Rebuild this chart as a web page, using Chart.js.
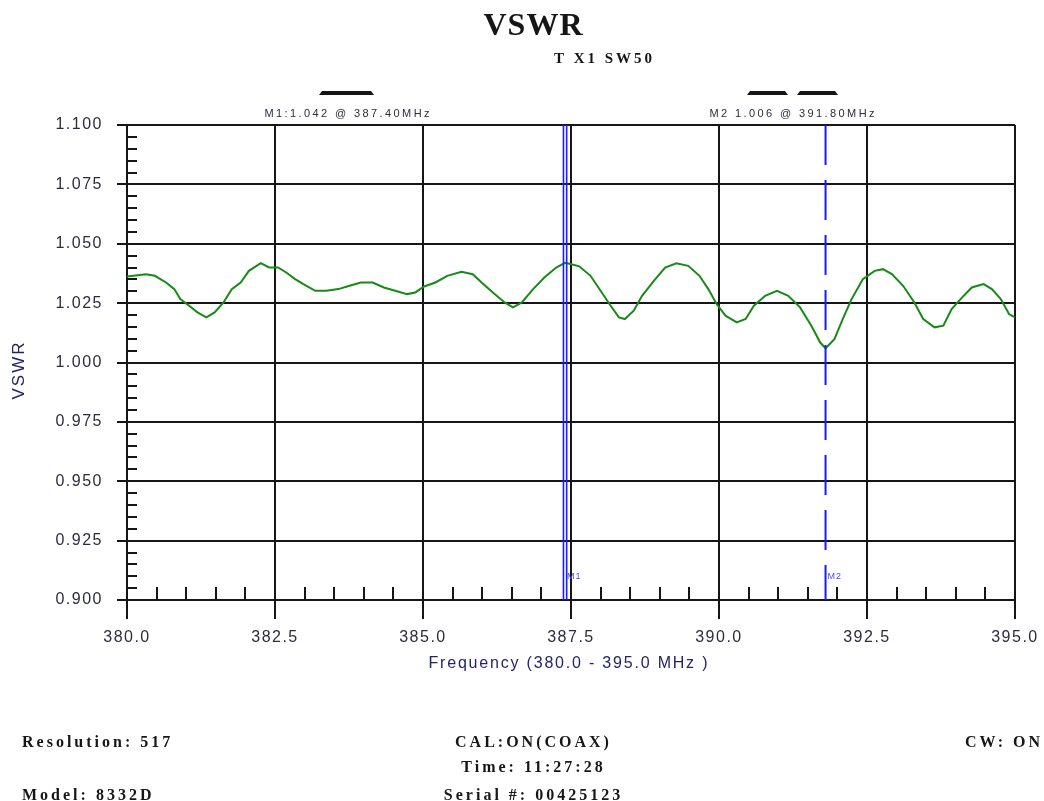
<!DOCTYPE html>
<html>
<head>
<meta charset="utf-8">
<title>VSWR</title>
<script src="https://cdn.jsdelivr.net/npm/chart.js@4.4.1/dist/chart.umd.min.js"></script>
<style>
  html, body { margin: 0; padding: 0; background: #fff; }
  #wrap { width: 1044px; height: 801px; }
</style>
</head>
<body>
<div id="wrap"><canvas id="vswrChart" width="1044" height="801"></canvas></div>
<script>
// ===== Sweep data =====
const freqMHz = [
  380.00, 380.32, 380.47, 380.66, 380.80, 380.90, 381.05, 381.19, 381.34, 381.48,
  381.63, 381.77, 381.92, 382.06, 382.26, 382.40, 382.55, 382.69, 382.84, 382.98,
  383.18, 383.37, 383.57, 383.76, 383.95, 384.15, 384.34, 384.53, 384.73, 384.87,
  385.02, 385.21, 385.41, 385.65, 385.84, 385.99, 386.18, 386.38, 386.52, 386.67,
  386.86, 387.05, 387.25, 387.40, 387.49, 387.64, 387.83, 388.02, 388.17, 388.31,
  388.41, 388.56, 388.70, 388.90, 389.09, 389.28, 389.48, 389.67, 389.82, 389.96,
  390.11, 390.30, 390.45, 390.59, 390.78, 390.98, 391.17, 391.37, 391.56, 391.71,
  391.80, 391.95, 392.09, 392.24, 392.43, 392.63, 392.77, 392.92, 393.11, 393.30,
  393.45, 393.64, 393.79, 393.93, 394.08, 394.27, 394.47, 394.61, 394.76, 394.90,
  395.00
];
const vswr = [
  1.0362, 1.0372, 1.0365, 1.0337, 1.0309, 1.0267, 1.0239, 1.0211, 1.0190, 1.0211,
  1.0253, 1.0309, 1.0337, 1.0386, 1.0418, 1.0400, 1.0400, 1.0379, 1.0351, 1.0330,
  1.0302, 1.0302, 1.0309, 1.0323, 1.0337, 1.0337, 1.0316, 1.0302, 1.0288, 1.0295,
  1.0320, 1.0337, 1.0365, 1.0382, 1.0372, 1.0337, 1.0295, 1.0253, 1.0232, 1.0253,
  1.0309, 1.0358, 1.0400, 1.0420, 1.0415, 1.0405, 1.0365, 1.0295, 1.0239, 1.0190,
  1.0183, 1.0218, 1.0281, 1.0344, 1.0400, 1.0418, 1.0407, 1.0365, 1.0309, 1.0246,
  1.0197, 1.0169, 1.0183, 1.0239, 1.0281, 1.0302, 1.0281, 1.0232, 1.0155, 1.0084,
  1.0060, 1.0098, 1.0183, 1.0267, 1.0351, 1.0386, 1.0393, 1.0372, 1.0323, 1.0253,
  1.0183, 1.0148, 1.0155, 1.0225, 1.0267, 1.0316, 1.0330, 1.0309, 1.0267, 1.0204,
  1.0190
];

const xTicks = [380.0, 382.5, 385.0, 387.5, 390.0, 392.5, 395.0];
const yTicks = [0.900, 0.925, 0.950, 0.975, 1.000, 1.025, 1.050, 1.075, 1.100];
const xMinorStep = 0.5;
const yMinorStep = 0.005;

const markerNames = ['M1', 'M2'];
const markerFreq = [387.40, 391.80];
const markerVswr = [1.042, 1.006];

const footerLeft = ['Resolution: 517', 'Model: 8332D'];
const footerCenter = ['CAL:ON(COAX)', 'Time: 11:27:28', 'Serial #: 00425123'];
const footerRight = ['CW: ON'];

// ===== Colours =====
const INK = '#161616';
const LABEL = '#2c2c40';
const NAVY = '#24246a';
const TRACE = '#178a17';
const MARKER = '#1a1aff';

// text with letter spacing, compensating the trailing gap Chrome adds
function drawText(ctx, str, x, y, font, color, align, spacing) {
  ctx.save();
  ctx.font = font;
  ctx.fillStyle = color;
  ctx.textAlign = align;
  ctx.textBaseline = 'middle';
  ctx.letterSpacing = spacing + 'px';
  let dx = 0;
  if (align === 'center') dx = spacing / 2;
  if (align === 'right') dx = spacing;
  ctx.fillText(str, x + dx, y);
  ctx.restore();
}

function bar(ctx, x1, x2, y) {
  ctx.save();
  ctx.fillStyle = INK;
  ctx.beginPath();
  ctx.moveTo(x1 + 3, y - 2);
  ctx.lineTo(x2 - 3, y - 2);
  ctx.lineTo(x2, y + 2);
  ctx.lineTo(x1, y + 2);
  ctx.closePath();
  ctx.fill();
  ctx.restore();
}

// ===== Extras: titles, minor ticks, markers, footer =====
const decorations = {
  id: 'decorations',
  beforeDraw(chart) {
    chart.ctx.letterSpacing = '1.5px';
  },
  afterDatasetsDraw(chart) {
    const { ctx, chartArea: area, scales: { x } } = chart;
    ctx.save();
    ctx.strokeStyle = MARKER;
    ctx.lineWidth = 1.6;

    // M1: double solid line
    const m1 = x.getPixelForValue(markerFreq[0]);
    [-1.6, 1.6].forEach(off => {
      ctx.beginPath();
      ctx.moveTo(m1 + off, area.top);
      ctx.lineTo(m1 + off, area.bottom);
      ctx.stroke();
    });

    // M2: long dashes
    const m2 = x.getPixelForValue(markerFreq[1]);
    ctx.lineWidth = 2;
    ctx.setLineDash([40, 15]);
    ctx.beginPath();
    ctx.moveTo(m2, area.top);
    ctx.lineTo(m2, area.bottom);
    ctx.stroke();
    ctx.restore();

    drawText(ctx, markerNames[0], m1 + 2, area.bottom - 23, '9px "Liberation Sans"', '#4a4aff', 'left', 1);
    drawText(ctx, markerNames[1], m2 + 2, area.bottom - 23, '9px "Liberation Sans"', '#4a4aff', 'left', 1);
  },
  afterDraw(chart) {
    const { ctx, chartArea: area, scales: { x, y } } = chart;

    // minor ticks
    ctx.save();
    ctx.strokeStyle = INK;
    ctx.lineWidth = 2;
    ctx.beginPath();
    for (let f = x.min + xMinorStep; f < x.max; f += xMinorStep) {
      if (xTicks.some(t => Math.abs(t - f) < 1e-6)) continue;
      const px = Math.round(x.getPixelForValue(f));
      ctx.moveTo(px, area.bottom);
      ctx.lineTo(px, area.bottom - 13);
    }
    for (let v = y.min + yMinorStep; v < y.max - 1e-9; v += yMinorStep) {
      if (yTicks.some(t => Math.abs(t - v) < 1e-6)) continue;
      const py = Math.round(y.getPixelForValue(v));
      ctx.moveTo(area.left, py);
      ctx.lineTo(area.left + 10, py);
    }
    ctx.stroke();
    ctx.restore();

    // header
    drawText(ctx, 'VSWR', 533, 27, 'bold 32px "Liberation Serif"', INK, 'center', 1);
    drawText(ctx, 'T X1 SW50', 603, 59, 'bold 15px "Liberation Serif"', INK, 'center', 3);

    // marker readouts
    bar(ctx, 319, 374, 93);
    bar(ctx, 747, 788, 93);
    bar(ctx, 797, 838, 93);
    const mLabel = (i, sep) => markerNames[i] + sep + markerVswr[i].toFixed(3) + ' @ ' + markerFreq[i].toFixed(2) + 'MHz';
    drawText(ctx, mLabel(0, ':'), 347, 114, '11px "Liberation Sans"', LABEL, 'center', 2.4);
    drawText(ctx, mLabel(1, ' '), 792, 114, '11px "Liberation Sans"', LABEL, 'center', 2.4);

    // axis titles
    drawText(ctx, 'Frequency (380.0 - 395.0 MHz )', 568, 664, '16px "Liberation Sans"', NAVY, 'center', 1.8);
    ctx.save();
    ctx.translate(19, 371);
    ctx.rotate(-Math.PI / 2);
    drawText(ctx, 'VSWR', 0, 0, '17px "Liberation Sans"', NAVY, 'center', 2);
    ctx.restore();

    // footer
    const ff = 'bold 16px "Liberation Serif"';
    drawText(ctx, footerLeft[0], 22, 743, ff, INK, 'left', 3);
    drawText(ctx, footerLeft[1], 22, 796, ff, INK, 'left', 3);
    drawText(ctx, footerCenter[0], 532, 743, ff, INK, 'center', 3);
    drawText(ctx, footerCenter[1], 532, 768, ff, INK, 'center', 3);
    drawText(ctx, footerCenter[2], 532, 796, ff, INK, 'center', 3);
    drawText(ctx, footerRight[0], 1040, 743, ff, INK, 'right', 3);
  }
};

// ===== VSWR chart =====
const ctx = document.getElementById('vswrChart').getContext('2d');
const vswrChart = new Chart(ctx, {
  type: 'line',
  data: {
    datasets: [{
      label: 'VSWR',
      data: freqMHz.map((f, i) => ({ x: f, y: vswr[i] })),
      borderColor: TRACE,
      borderWidth: 2,
      pointRadius: 0,
      tension: 0,
      fill: false
    }]
  },
  options: {
    responsive: false,
    animation: false,
    events: [],
    layout: { padding: { left: 0, right: 28, top: 125, bottom: 141 } },
    plugins: {
      legend: { display: false },
      tooltip: { enabled: false }
    },
    scales: {
      x: {
        type: 'linear',
        min: 380,
        max: 395,
        afterBuildTicks: scale => { scale.ticks = xTicks.map(v => ({ value: v })); },
        afterFit: scale => { scale.height = 60; },
        grid: { color: INK, lineWidth: 2, tickLength: 19, tickColor: INK, tickWidth: 2 },
        border: { display: true, color: INK, width: 2 },
        ticks: {
          autoSkip: false,
          maxRotation: 0,
          padding: 9,
          color: LABEL,
          font: { family: '"Liberation Sans"', size: 16 },
          callback: v => v.toFixed(1)
        }
      },
      y: {
        min: 0.9,
        max: 1.1,
        afterBuildTicks: scale => { scale.ticks = yTicks.map(v => ({ value: v })); },
        afterFit: scale => { scale.width = 127; },
        grid: { color: INK, lineWidth: 2, tickLength: 10, tickColor: INK, tickWidth: 2 },
        border: { display: true, color: INK, width: 2 },
        ticks: {
          padding: 14,
          color: LABEL,
          font: { family: '"Liberation Sans"', size: 16 },
          callback: v => v.toFixed(3)
        }
      }
    }
  },
  plugins: [decorations]
});
</script>
</body>
</html>
